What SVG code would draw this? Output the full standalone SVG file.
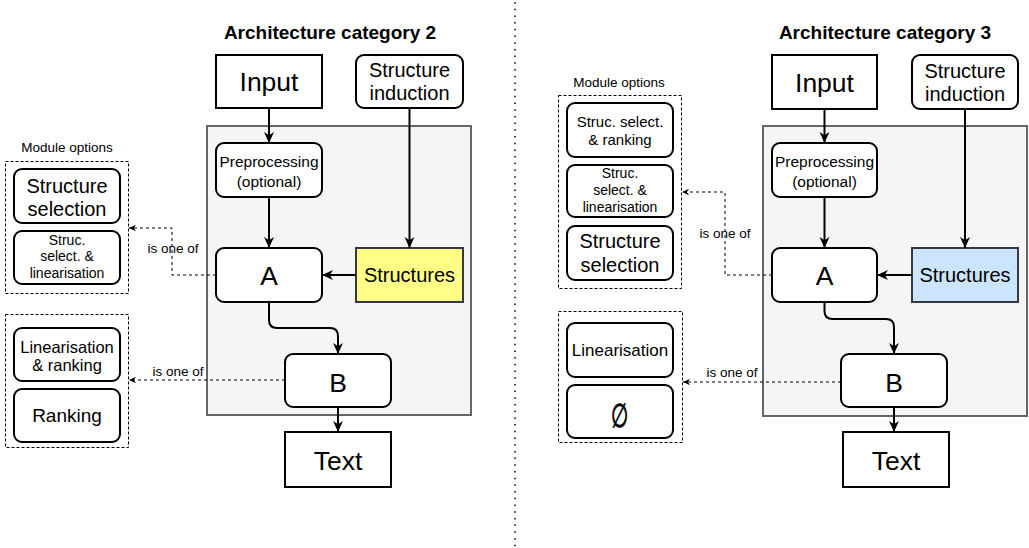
<svg xmlns="http://www.w3.org/2000/svg" width="1029" height="548" viewBox="0 0 1029 548">
<style>
text{font-family:"Liberation Sans",Arial,sans-serif;fill:#000;text-anchor:middle}
.title{font-size:19px;font-weight:bold}
.box{fill:#fff;stroke:#000;stroke-width:2}
.cont{fill:#f5f5f5;stroke:#666;stroke-width:2}
.opt{fill:none;stroke:#000;stroke-width:1;stroke-dasharray:3 2}
.edge{fill:none;stroke:#000;stroke-width:2}
.dash{fill:none;stroke:#000;stroke-width:1;stroke-dasharray:3 3}
.big{font-size:26.5px}
.mid{font-size:20px}
.lbl{font-size:13.5px}
</style>
<defs>
<marker id="arr" markerUnits="userSpaceOnUse" viewBox="0 0 10 10" refX="10" refY="5" markerWidth="11" markerHeight="11" orient="auto">
<path d="M0,0.5 L10,5 L0,9.5 L3,5 z" fill="#000"/>
</marker>
<marker id="arrs" markerUnits="userSpaceOnUse" viewBox="0 0 10 10" refX="10" refY="5" markerWidth="7" markerHeight="7" orient="auto">
<path d="M0,0.5 L10,5 L0,9.5 L3,5 z" fill="#000"/>
</marker>
</defs>
<rect width="1029" height="548" fill="#fff"/>

<line x1="515" y1="2" x2="515" y2="548" stroke="#000" stroke-width="1.5" stroke-dasharray="1.5 5.2"/>

<!-- LEFT PANEL -->
<text class="title" x="330" y="39">Architecture category 2</text>
<rect id="container2" class="cont" x="207" y="126" width="264" height="289"/>

<g id="input2"><rect class="box" x="216" y="55" width="106" height="53"/><text class="big" x="269" y="91">Input</text></g>
<g id="induction2"><rect class="box" x="356" y="55" width="107" height="53" rx="8"/><text class="mid" x="409.5" y="77">Structure</text><text class="mid" x="409.5" y="100">induction</text></g>
<g id="pre2"><rect class="box" x="216" y="143" width="106" height="54" rx="8"/><text x="269" y="167" font-size="15.5">Preprocessing</text><text x="269" y="187" font-size="15.5">(optional)</text></g>
<g id="A2"><rect class="box" x="216" y="248" width="106" height="54" rx="8"/><text class="big" x="269" y="285">A</text></g>
<g id="structures2"><rect x="356" y="248" width="107" height="54" fill="#ffff88" stroke="#36393d" stroke-width="2"/><text class="mid" x="409.5" y="282">Structures</text></g>
<g id="B2"><rect class="box" x="285" y="354" width="106" height="53" rx="8"/><text class="big" x="338" y="392">B</text></g>
<g id="text2"><rect class="box" x="285" y="432" width="106" height="55"/><text class="big" x="338" y="470">Text</text></g>

<g id="options2">
<text class="lbl" x="67" y="152">Module options</text>
<rect class="opt" x="5.5" y="161.5" width="123" height="132"/>
<g id="ss2"><rect class="box" x="14" y="169" width="106" height="54" rx="8"/><text class="mid" x="67" y="193">Structure</text><text class="mid" x="67" y="216">selection</text></g>
<g id="ssl2"><rect class="box" x="14" y="231" width="106" height="53" rx="8"/><text x="67" y="245" font-size="14">Struc.</text><text x="67" y="261" font-size="14">select. &amp;</text><text x="67" y="278" font-size="14">linearisation</text></g>
<rect class="opt" x="5.5" y="314.5" width="123" height="133"/>
<g id="lr2"><rect class="box" x="14" y="328" width="106" height="53" rx="8"/><text x="67" y="353" font-size="16.5">Linearisation</text><text x="67" y="371" font-size="16.5">&amp; ranking</text></g>
<g id="rank2"><rect class="box" x="14" y="389" width="106" height="53" rx="8"/><text x="67" y="422" font-size="19">Ranking</text></g>
</g>

<!-- RIGHT PANEL -->
<text class="title" x="885" y="39">Architecture category 3</text>
<rect id="container3" class="cont" x="763" y="126" width="264" height="290"/>

<g id="input3"><rect class="box" x="772" y="55" width="105" height="54"/><text class="big" x="824.5" y="92">Input</text></g>
<g id="induction3"><rect class="box" x="912" y="55" width="106" height="54" rx="8"/><text class="mid" x="965" y="78">Structure</text><text class="mid" x="965" y="101">induction</text></g>
<g id="pre3"><rect class="box" x="772" y="143" width="105" height="54" rx="8"/><text x="824.5" y="167" font-size="15.5">Preprocessing</text><text x="824.5" y="187" font-size="15.5">(optional)</text></g>
<g id="A3"><rect class="box" x="772" y="248" width="105" height="54" rx="8"/><text class="big" x="824.5" y="285">A</text></g>
<g id="structures3"><rect x="912" y="248" width="106" height="54" fill="#cce5ff" stroke="#36393d" stroke-width="2"/><text class="mid" x="965" y="282">Structures</text></g>
<g id="B3"><rect class="box" x="841" y="354" width="106" height="53" rx="8"/><text class="big" x="894" y="392">B</text></g>
<g id="text3"><rect class="box" x="843" y="432" width="106" height="55"/><text class="big" x="896" y="470">Text</text></g>

<g id="options3">
<text class="lbl" x="619" y="87">Module options</text>
<rect class="opt" x="558.5" y="95.5" width="123" height="193"/>
<g id="ssr3"><rect class="box" x="567" y="103" width="106" height="54" rx="8"/><text x="620" y="127" font-size="15">Struc. select.</text><text x="620" y="145" font-size="15">&amp; ranking</text></g>
<g id="ssl3"><rect class="box" x="567" y="165" width="106" height="52" rx="8"/><text x="620" y="178" font-size="14">Struc.</text><text x="620" y="195" font-size="14">select. &amp;</text><text x="620" y="212" font-size="14">linearisation</text></g>
<g id="ss3"><rect class="box" x="567" y="226" width="106" height="54" rx="8"/><text class="mid" x="620" y="248">Structure</text><text class="mid" x="620" y="272">selection</text></g>
<rect class="opt" x="558.5" y="311.5" width="124" height="131"/>
<g id="lin3"><rect class="box" x="567" y="323" width="106" height="54" rx="8"/><text x="620" y="356" font-size="17">Linearisation</text></g>
<g id="empty3"><rect class="box" x="567" y="385" width="106" height="53" rx="8"/><text x="0" y="0" font-size="33" stroke="#000" stroke-width="0.9" transform="translate(620,427) scale(0.6,1)">∅</text></g>
</g>

<!-- CONNECTORS -->
<g id="connectors">
<path class="edge" d="M269,108 V143" marker-end="url(#arr)"/>
<path class="edge" d="M409.5,108 V248" marker-end="url(#arr)"/>
<path class="edge" d="M269,197 V248" marker-end="url(#arr)"/>
<path class="edge" d="M356,275 H322" marker-end="url(#arr)"/>
<path class="edge" d="M269,302 V320 Q269,328 277,328 H330 Q338,328 338,336 V354" marker-end="url(#arr)"/>
<path class="edge" d="M338,407 V432" marker-end="url(#arr)"/>
<path class="dash" d="M216,275 H172 V228 H129" marker-end="url(#arrs)"/>
<path class="dash" d="M285,380 H129" marker-end="url(#arrs)"/>
<text class="lbl" x="173" y="253">is one of</text>
<text class="lbl" x="178" y="376">is one of</text>

<path class="edge" d="M824.5,109 V143" marker-end="url(#arr)"/>
<path class="edge" d="M965,109 V248" marker-end="url(#arr)"/>
<path class="edge" d="M824.5,197 V248" marker-end="url(#arr)"/>
<path class="edge" d="M912,275 H877" marker-end="url(#arr)"/>
<path class="edge" d="M824.5,302 V311 Q824.5,319 832.5,319 H886 Q894,319 894,327 V354" marker-end="url(#arr)"/>
<path class="edge" d="M894,407 V432" marker-end="url(#arr)"/>
<path class="dash" d="M772,275 H725 V192 H682" marker-end="url(#arrs)"/>
<path class="dash" d="M841,382 H683" marker-end="url(#arrs)"/>
<text class="lbl" x="725" y="238">is one of</text>
<text class="lbl" x="732" y="377">is one of</text>
</g>
</svg>
